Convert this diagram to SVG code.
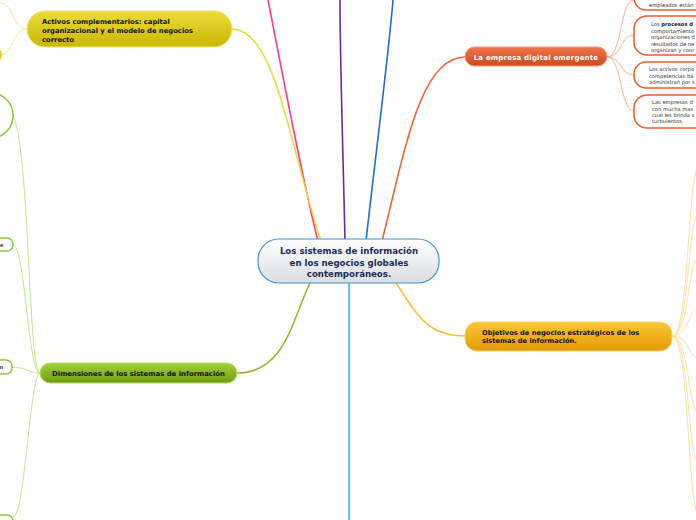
<svg xmlns="http://www.w3.org/2000/svg" width="696" height="520" viewBox="0 0 696 520">
<defs>
<linearGradient id="gCenter" x1="0" y1="0" x2="0" y2="1"><stop offset="0" stop-color="#ffffff"/><stop offset="1" stop-color="#d9dee2"/></linearGradient>
<linearGradient id="gYel" x1="0" y1="0" x2="0" y2="1"><stop offset="0" stop-color="#ecdc3a"/><stop offset="1" stop-color="#c9b705"/></linearGradient>
<linearGradient id="gGrn" x1="0" y1="0" x2="0" y2="1"><stop offset="0" stop-color="#a2d13a"/><stop offset="1" stop-color="#6d9c12"/></linearGradient>
<linearGradient id="gRed" x1="0" y1="0" x2="0" y2="1"><stop offset="0" stop-color="#f0744a"/><stop offset="1" stop-color="#cc4a1e"/></linearGradient>
<linearGradient id="gOra" x1="0" y1="0" x2="0" y2="1"><stop offset="0" stop-color="#fdc535"/><stop offset="1" stop-color="#e29b04"/></linearGradient>
</defs>
<style>
.main{stroke-width:1.6;fill:none}
.thin{stroke-width:1;fill:none}
.t{font-family:"DejaVu Sans",Verdana,sans-serif;font-weight:bold}
.s{font-family:"DejaVu Sans",Verdana,sans-serif;font-size:5.2px;fill:#333}
.leaf{fill:#fff;stroke:#f05a28;stroke-width:1.5}
.gleaf{fill:#fff;stroke:#8cc63f;stroke-width:1.5}
</style>
<g id="connectors">
<path class="main" stroke="#ff3a8c" d="M318,241 C300,170 280,60 268,0"/>
<path class="main" stroke="#6b2d8e" d="M345,241 C343,150 340,60 340,0"/>
<path class="main" stroke="#2468dc" d="M366,241 C375,160 388,60 393,0"/>
<path class="main" stroke="#f0643a" d="M382,241 C405,150 420,57 465,57"/>
<path class="main" stroke="#e8dc3c" d="M232,29 C275,29 288,140 321,241"/>
<path class="main" stroke="#8cbd28" d="M237,373 C285,373 292,320 310,283"/>
<path class="main" stroke="#3cb6ea" d="M349,283 L349,520"/>
<path class="main" stroke="#fbc02d" d="M396,283 C420,320 430,336 465,336"/>
<g class="thin" stroke="#f9e79a">
<path d="M27,29 C12,29 14,3 0,3"/>
<path d="M27,29 C12,29 14,55 0,55"/>
</g>
<g class="thin" stroke="#c8e28e">
<path d="M40,373 C28,373 30,150 13,115"/>
<path d="M40,373 C28,373 25,245 13,245"/>
<path d="M40,373 C28,373 25,367 12,367"/>
<path d="M40,373 C30,373 25,517 13,517"/>
</g>
<g class="thin" stroke="#f7b39a">
<path d="M607,57 C622,57 620,0 634,0"/>
<path d="M607,57 C622,57 620,35 634,35"/>
<path d="M607,57 C622,57 620,75 634,75"/>
<path d="M607,57 C622,57 620,111 634,111"/>
</g>
<g class="thin" stroke="#fde2a0">
<path d="M672,336 C690,336 687,165 700,165"/>
<path d="M672,336 C690,336 687,212 700,212"/>
<path d="M672,336 C690,336 687,257 700,257"/>
<path d="M672,336 C690,336 687,308 700,308"/>
<path d="M672,336 C690,336 687,358 700,358"/>
<path d="M672,336 C690,336 687,413 700,413"/>
<path d="M672,336 C690,336 687,465 700,465"/>
<path d="M672,336 C690,336 687,517 700,517"/>
</g>
</g>
<g id="center">
<rect x="258" y="239" width="181" height="44" rx="21" fill="url(#gCenter)" stroke="#3f8fd0" stroke-width="1.2"/>
<text class="t" font-size="8.6" fill="#1c2b5c" text-anchor="middle"><tspan x="349" y="254">Los sistemas de información</tspan><tspan x="349" y="265.5">en los negocios globales</tspan><tspan x="349" y="277">contemporáneos.</tspan></text>
</g>
<g id="activos">
<rect x="27" y="11" width="205" height="36" rx="18" fill="url(#gYel)" stroke="#f0e66a" stroke-width="1"/>
<text class="t" font-size="6.8" fill="#111"><tspan x="42" y="24">Activos complementarios: capital</tspan><tspan x="42" y="32.5">organizacional y el modelo de negocios</tspan><tspan x="42" y="41.5">correcto</tspan></text>
</g>
<g id="activos-leaf"><rect x="-40" y="48" width="42" height="14" rx="6" fill="#e4d42c"/></g>
<g id="dimensiones">
<rect x="40" y="363" width="197" height="20" rx="10" fill="url(#gGrn)" stroke="#b4dc5a" stroke-width="1"/>
<text class="t" font-size="6.9" fill="#111" text-anchor="middle" x="138.5" y="376">Dimensiones de los sistemas de información</text>
</g>
<g id="dim-leaf-1"><rect x="-150" y="93" width="163" height="45" rx="22" class="gleaf" stroke-width="2"/></g>
<g id="dim-leaf-2"><rect x="-100" y="238" width="113" height="13" rx="6" class="gleaf"/><text class="s" font-weight="bold" fill="#222" x="0" y="246.5">e</text></g>
<g id="dim-leaf-3"><rect x="-100" y="360" width="112" height="14" rx="6" class="gleaf"/><text class="s" font-weight="bold" fill="#222" x="-0.5" y="369">n</text></g>
<g id="dim-leaf-4"><rect x="-100" y="515" width="113" height="20" rx="6" class="gleaf"/></g>
<g id="empresa">
<rect x="465" y="47" width="142" height="19" rx="9.5" fill="url(#gRed)" stroke="#f59a7a" stroke-width="1"/>
<text class="t" font-size="7" fill="#fff" text-anchor="middle" x="536" y="59.5" letter-spacing="0.2">La empresa digital emergente</text>
</g>
<g id="emp-leaf-1"><rect x="634" y="-20" width="120" height="30" rx="12" class="leaf"/><text class="s" x="649" y="7">empleados están</text></g>
<g id="emp-leaf-2"><rect x="634" y="16" width="120" height="39" rx="13" class="leaf"/><text class="s"><tspan x="651" y="26">Los <tspan font-weight="bold" fill="#111">procesos d</tspan></tspan><tspan x="651" y="32.5">comportamiento</tspan><tspan x="651" y="39">organizaciones d</tspan><tspan x="651" y="45.5">resultados de ne</tspan><tspan x="651" y="52">organizan y coor</tspan></text></g>
<g id="emp-leaf-3"><rect x="634" y="62" width="120" height="26" rx="12" class="leaf"/><text class="s"><tspan x="649" y="71">Los activos corpo</tspan><tspan x="649" y="77.5">competencias bá</tspan><tspan x="649" y="84">administran por s</tspan></text></g>
<g id="emp-leaf-4"><rect x="634" y="95" width="120" height="33" rx="13" class="leaf"/><text class="s"><tspan x="652" y="104">Las empresas d</tspan><tspan x="652" y="110.5">con mucha mas</tspan><tspan x="652" y="116.5">cual les brinda s</tspan><tspan x="652" y="123">turbulentos.</tspan></text></g>
<g id="objetivos">
<rect x="465" y="322" width="207" height="29" rx="12" fill="url(#gOra)" stroke="#fdd36a" stroke-width="1"/>
<text class="t" font-size="6.7" fill="#111"><tspan x="482" y="334.5">Objetivos de negocios estratégicos de los</tspan><tspan x="482" y="343">sistemas de información.</tspan></text>
</g>
</svg>
